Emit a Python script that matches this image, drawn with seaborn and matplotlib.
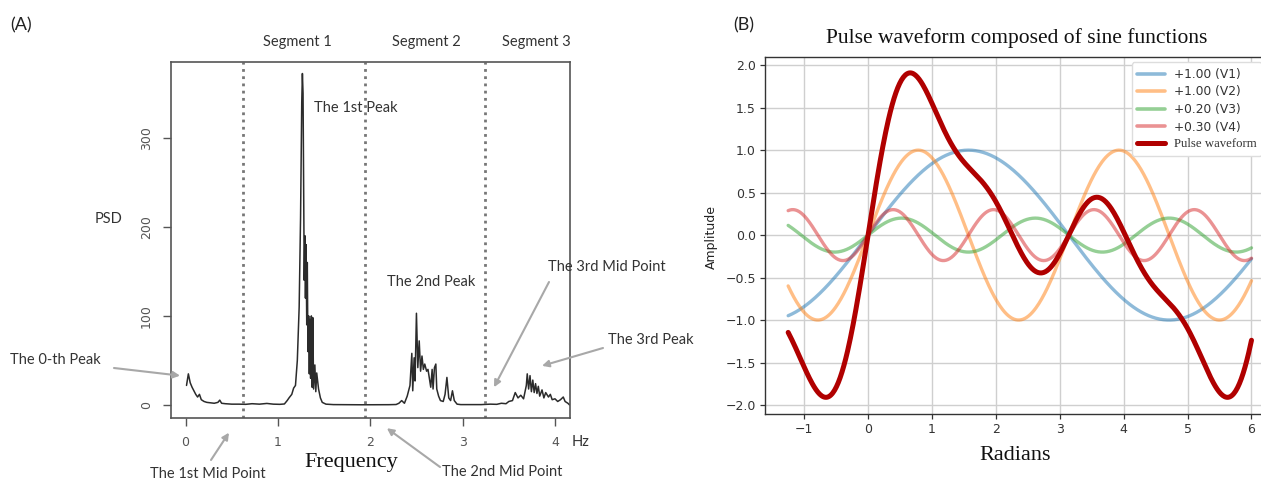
import numpy as np
import pandas as pd
import matplotlib
matplotlib.use("Agg")
import matplotlib.pyplot as plt
import seaborn as sns

# ---------------- Data: panel A (power spectral density) ----------------
freq_hz = [0.01, 0.03, 0.05, 0.07, 0.09, 0.11, 0.13, 0.15, 0.17, 0.20, 0.23, 0.27, 0.31, 0.35,
           0.37, 0.39, 0.43, 0.50, 0.58, 0.65, 0.72, 0.80, 0.88, 0.95, 1.02, 1.07, 1.10, 1.12,
           1.15, 1.17, 1.19, 1.21, 1.23, 1.245, 1.258, 1.265, 1.272, 1.278, 1.285, 1.292, 1.298,
           1.305, 1.312, 1.318, 1.325, 1.333, 1.34, 1.347, 1.354, 1.362, 1.37, 1.378, 1.386,
           1.40, 1.41, 1.42, 1.44, 1.46, 1.48, 1.52, 1.60, 1.70, 1.80, 1.90, 2.00, 2.10, 2.20,
           2.28, 2.31, 2.34, 2.37, 2.40, 2.43, 2.45, 2.46, 2.475, 2.485, 2.50, 2.515, 2.53,
           2.545, 2.56, 2.575, 2.59, 2.61, 2.625, 2.64, 2.655, 2.67, 2.68, 2.695, 2.71, 2.72,
           2.74, 2.76, 2.79, 2.81, 2.83, 2.85, 2.87, 2.89, 2.91, 2.94, 2.98, 3.10, 3.20, 3.30,
           3.37, 3.42, 3.47, 3.50, 3.54, 3.57, 3.60, 3.63, 3.66, 3.69, 3.70, 3.715, 3.73, 3.745,
           3.76, 3.775, 3.79, 3.805, 3.82, 3.835, 3.86, 3.88, 3.90, 3.93, 3.95, 3.97, 4.00, 4.03,
           4.06, 4.09, 4.11, 4.14, 4.16]
psd_vals = [22, 35, 25, 20, 16, 12, 9, 12, 6, 4, 3, 2.5, 2, 3,
            5.5, 2, 1.5, 1, 1, 0.8, 1.5, 1, 1.8, 1, 0.8, 1.2, 5, 8,
            12, 19, 22, 50, 110, 210, 340, 372, 350, 250, 140, 190, 120,
            180, 90, 160, 60, 100, 35, 96, 30, 100, 20, 98, 18,
            45, 15, 36, 18, 8, 3, 1, 0.5, 0.4, 0.3, 0.3, 0.3, 0.3, 0.4,
            0.6, 2, 5, 2, 10, 22, 58, 16, 53, 27, 103, 42, 72,
            38, 55, 40, 46, 38, 40, 30, 20, 40, 18, 42, 46, 18,
            10, 5, 4, 12, 31, 8, 5, 16, 5, 1, 0.5, 0.5, 0.5, 1,
            0.8, 2, 1.5, 4, 5, 14, 8, 11, 7, 22, 35, 18, 33, 15,
            28, 14, 24, 13, 21, 10, 17, 8, 14, 9, 12, 6, 7, 4,
            6, 9, 4, 2, 0]
mid_points = [0.62, 1.945, 3.245]
psd_xticks = [0, 1, 2, 3, 4]
psd_yticks = [0, 100, 200, 300]
segment_labels = ["Segment 1", "Segment 2", "Segment 3"]

# ---------------- Data: panel B (sine components) ----------------
harmonics = [1, 2, 3, 4]
amplitudes = [1.00, 1.00, 0.20, 0.30]
comp_names = ["V1", "V2", "V3", "V4"]
comp_colors = ["#1f77b4", "#ff7f0e", "#2ca02c", "#d62728"]
rad_xticks = [-1, 0, 1, 2, 3, 4, 5, 6]
amp_yticks = [-2.0, -1.5, -1.0, -0.5, 0.0, 0.5, 1.0, 1.5, 2.0]

sns.set_style("white")
plt.rcParams['font.family'] = ['DejaVu Sans']

W, H = 1261, 482
fig = plt.figure(figsize=(W / 100, H / 100), dpi=100)

def fpx(x, y):
    return (x / W, 1 - y / H)

# ---------------- Panel A ----------------
axA = fig.add_axes([171 / W, 1 - 417.7 / H, (570 - 171) / W, (417.7 - 62.3) / H])
dfA = pd.DataFrame({"Frequency": freq_hz, "PSD": psd_vals})
sns.lineplot(data=dfA, x="Frequency", y="PSD", ax=axA, color="#2b2b2b", lw=1.1)
for m in mid_points:
    axA.axvline(m, color="#777777", lw=2.0, linestyle=(0, (1, 1.6)))
axA.set_xlim(-0.158, 4.163)
axA.set_ylim(-14.2, 384.6)
axA.set_xticks(psd_xticks)
axA.set_yticks(psd_yticks)
axA.set_xlabel("")
axA.set_ylabel("")
for s in axA.spines.values():
    s.set_color("#555555")
    s.set_linewidth(1.2)
    s.set_visible(True)
axA.tick_params(axis="both", which="major", direction="out", length=6, width=1,
                color="#555555", labelcolor="#555555", labelsize=9, pad=7,
                bottom=True, left=True, top=False, right=False)
axA.tick_params(axis="y", labelrotation=90)
for lab in axA.get_yticklabels():
    lab.set_va("center")

sansA = ["Lato", "DejaVu Sans"]
tA = dict(family=sansA, fontsize=10.5, color="#333333")
for lab, xc in zip(segment_labels, [297, 426, 536]):
    fig.text(*fpx(xc, 42), lab, ha="center", va="center", **tA)
fig.text(*fpx(314, 108), "The 1st Peak", ha="left", va="center", **tA)
fig.text(*fpx(387, 282), "The 2nd Peak", ha="left", va="center", **tA)
fig.text(*fpx(109, 219), "PSD", ha="center", va="center", **tA)
fig.text(*fpx(581, 442), "Hz", ha="center", va="center", **tA)
fig.text(*fpx(351, 463), "Frequency", ha="center", va="center",
         family=["Liberation Serif"], fontsize=16, color="#111111")
fig.text(*fpx(10, 25), "(A)", ha="left", va="center", family=sansA, fontsize=13, color="#222222")
fig.text(*fpx(733, 25), "(B)", ha="left", va="center", family=sansA, fontsize=13, color="#222222")

arrow = dict(arrowstyle="-|>", color="#a8a8a8", lw=1.5, mutation_scale=10, shrinkA=0, shrinkB=0)
annots = [
    ("The 0-th Peak", (10, 360), "left", (114, 368), (-0.06, 33)),
    ("The 1st Mid Point", (208, 474), "center", (211, 460), (0.47, -31)),
    ("The 2nd Mid Point", (502, 472), "center", (440, 467), (2.18, -26)),
    ("The 3rd Mid Point", (607, 267), "center", (549, 282), (3.34, 20)),
    ("The 3rd Peak", (608, 340), "left", (603, 348), (3.86, 44)),
]
for txt, tpos, ha, tail, head in annots:
    fig.text(*fpx(*tpos), txt, ha=ha, va="center", **tA)
    axA.annotate("", xy=head, xycoords="data", xytext=fpx(*tail), textcoords="figure fraction",
                 arrowprops=arrow, annotation_clip=False)

# ---------------- Panel B ----------------
axB = fig.add_axes([765 / W, 1 - 413.5 / H, (W - 765) / W, (413.5 - 56.7) / H])
xr = np.linspace(-1.25, 6.0, 500)
rows = []
total = np.zeros_like(xr)
for k, a, n in zip(harmonics, amplitudes, comp_names):
    yv = a * np.sin(k * xr)
    total = total + yv
    rows.append(pd.DataFrame({"x": xr, "y": yv, "series": f"+{a:.2f} ({n})"}))
dfB = pd.concat(rows, ignore_index=True)
labelsB = [f"+{a:.2f} ({n})" for a, n in zip(amplitudes, comp_names)]
sns.lineplot(data=dfB, x="x", y="y", hue="series", hue_order=labelsB,
             palette=comp_colors, ax=axB, lw=2.4, alpha=0.5, sort=False)
sns.lineplot(x=xr, y=total, ax=axB, color="#b00000", lw=3.6, label="Pulse waveform", sort=False)

axB.set_xlim(-1.6125, 6.0 + (W - 1251.5) / 63.9)
axB.set_ylim(-2.1, 2.1)
axB.set_xticks(rad_xticks)
axB.set_yticks(amp_yticks)
axB.grid(True, color="#cfcfcf", lw=1.0)
axB.set_axisbelow(True)
axB.set_xlabel("")
axB.set_ylabel("")
for name, s in axB.spines.items():
    s.set_color("#333333")
    s.set_linewidth(1.0)
axB.spines["right"].set_visible(False)
axB.tick_params(axis="both", which="major", direction="out", length=3.5, width=0.9,
                color="#333333", labelcolor="#333333", labelsize=9, pad=3,
                bottom=True, left=True, top=False, right=False)

fig.text(*fpx(1017, 38), "Pulse waveform composed of sine functions", ha="center", va="center",
         family=["Liberation Serif"], fontsize=15.5, color="#111111")
fig.text(*fpx(1015, 455), "Radians", ha="center", va="center",
         family=["Liberation Serif"], fontsize=16, color="#111111")
fig.text(*fpx(711, 237), "Amplitude", ha="center", va="center", rotation=90,
         fontsize=9, color="#222222")

handles, labels = axB.get_legend_handles_labels()
if axB.get_legend():
    axB.get_legend().remove()
leg = axB.legend(handles, labels, loc="upper left", bbox_to_anchor=fpx(1131.5, 62.3),
                 bbox_transform=fig.transFigure, fontsize=8.8, frameon=True, borderaxespad=0,
                 handlelength=2.3, handletextpad=0.7, labelspacing=0.38, borderpad=0.45,
                 fancybox=True, edgecolor="#dddddd", framealpha=1.0)
for lh in leg.get_lines():
    lh.set_linewidth(2.6)
leg.get_lines()[-1].set_linewidth(3.6)
for t in leg.get_texts():
    t.set_color("#333333")
leg.get_texts()[-1].set_family(["Liberation Serif"])
leg.get_texts()[-1].set_fontsize(9.2)

fig.savefig("out.png", dpi=100)
